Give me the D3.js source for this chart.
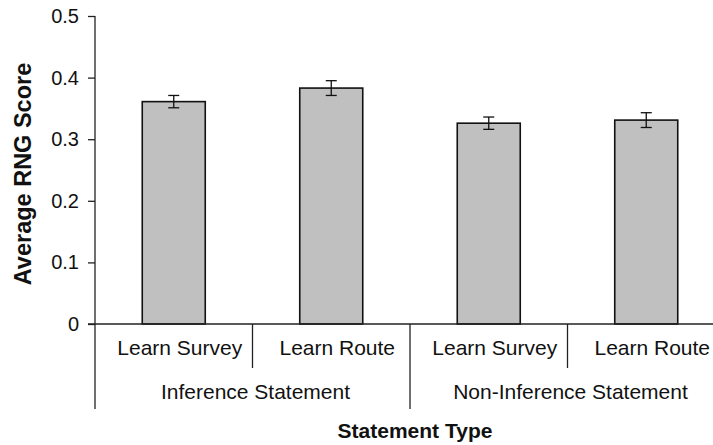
<!DOCTYPE html>
<html>
<head>
<meta charset="utf-8">
<script src="https://cdn.jsdelivr.net/npm/d3@7"></script>
<style>
  html, body { margin: 0; padding: 0; background: #fff; }
  svg { display: block; font-family: "Liberation Sans", Arial, Helvetica, sans-serif; }
</style>
</head>
<body>
<svg id="chart" width="713" height="445"></svg>
<script>
// Mean RNG scores with standard errors, by learning condition within statement type
const categories = ["Learn Survey", "Learn Route", "Learn Survey", "Learn Route"];
const categoryGroup = ["Inference Statement", "Inference Statement", "Non-Inference Statement", "Non-Inference Statement"];
const groups = ["Inference Statement", "Non-Inference Statement"];
const means = [0.361, 0.383, 0.326, 0.331];
const errors = [0.010, 0.012, 0.010, 0.012];
const yTicks = [0, 0.1, 0.2, 0.3, 0.4, 0.5];
const yTitle = "Average RNG Score";
const xTitle = "Statement Type";

const svg = d3.select("#chart");
const plotLeft = 95, plotTop = 16, plotBottom = 324, plotRight = 725;

const idx = d3.range(categories.length);
const x = d3.scaleBand().domain(idx).range([plotLeft, plotRight]).paddingInner(0).paddingOuter(0);
const y = d3.scaleLinear().domain([0, 0.5]).range([plotBottom, plotTop]);
const barW = x.bandwidth() * 0.4;

// Bars
svg.append("g").selectAll("rect").data(idx).join("rect")
  .attr("x", i => x(i) + (x.bandwidth() - barW) / 2)
  .attr("y", i => y(means[i]))
  .attr("width", barW)
  .attr("height", i => y(0) - y(means[i]))
  .attr("fill", "#c0c0c0")
  .attr("stroke", "#111")
  .attr("stroke-width", 1.6);

// Error bars
const eb = svg.append("g").attr("stroke", "#111").attr("stroke-width", 1.3);
idx.forEach(i => {
  const cx = x(i) + x.bandwidth() / 2;
  const y1 = y(means[i] + errors[i]), y0 = y(means[i] - errors[i]);
  eb.append("line").attr("x1", cx).attr("x2", cx).attr("y1", y1).attr("y2", y0);
  eb.append("line").attr("x1", cx - 5.5).attr("x2", cx + 5.5).attr("y1", y1).attr("y2", y1);
  eb.append("line").attr("x1", cx - 5.5).attr("x2", cx + 5.5).attr("y1", y0).attr("y2", y0);
});

// Y axis
const yAxis = svg.append("g")
  .attr("transform", `translate(${plotLeft},0)`)
  .call(d3.axisLeft(y).tickValues(yTicks).tickSize(7).tickPadding(9)
    .tickFormat(d => d === 0 ? "0" : d3.format(".1f")(d)));
yAxis.select(".domain").attr("stroke", "#222").attr("stroke-width", 1.3).attr("d", `M0,${plotTop}V${plotBottom}`);
yAxis.selectAll(".tick line").attr("stroke", "#222").attr("stroke-width", 1.3);
yAxis.selectAll(".tick text").attr("font-size", 20).attr("fill", "#111")
  .attr("font-family", "'Liberation Sans', Arial, sans-serif");

// X axis baseline
const ax = svg.append("g").attr("stroke", "#222").attr("stroke-width", 1.3);
ax.append("line").attr("x1", plotLeft - 7).attr("x2", plotRight).attr("y1", plotBottom).attr("y2", plotBottom);

// Dividers between categories (short) and between groups (long)
idx.forEach(i => {
  if (i === 0) return;
  const sameGroup = categoryGroup[i] === categoryGroup[i - 1];
  ax.append("line").attr("x1", x(i)).attr("x2", x(i))
    .attr("y1", plotBottom).attr("y2", sameGroup ? 368 : 409);
});
ax.append("line").attr("x1", plotLeft).attr("x2", plotLeft).attr("y1", plotBottom).attr("y2", 409);
ax.append("line").attr("x1", plotRight).attr("x2", plotRight).attr("y1", plotBottom).attr("y2", 409);

// Category labels
svg.append("g").selectAll("text").data(idx).join("text")
  .attr("x", i => x(i) + x.bandwidth() / 2 + 6)
  .attr("y", 355)
  .attr("text-anchor", "middle")
  .attr("font-size", 21)
  .attr("fill", "#111")
  .text(i => categories[i]);

// Group labels
svg.append("g").selectAll("text").data(groups).join("text")
  .attr("x", g => {
    const members = idx.filter(i => categoryGroup[i] === g);
    const g0 = x(members[0]), g1 = x(members[members.length - 1]) + x.bandwidth();
    return (g0 + g1) / 2 + 3;
  })
  .attr("y", 399)
  .attr("text-anchor", "middle")
  .attr("font-size", 21)
  .attr("fill", "#111")
  .text(g => g);

// Axis titles
svg.append("text")
  .attr("x", (plotLeft + plotRight) / 2 + 5)
  .attr("y", 438)
  .attr("text-anchor", "middle")
  .attr("font-size", 21)
  .attr("font-weight", "bold")
  .attr("fill", "#111")
  .text(xTitle);

svg.append("text")
  .attr("transform", `translate(31,${(plotTop + plotBottom) / 2 + 4}) rotate(-90)`)
  .attr("text-anchor", "middle")
  .attr("font-size", 23.5)
  .attr("font-weight", "bold")
  .attr("fill", "#111")
  .text(yTitle);
</script>
</body>
</html>
